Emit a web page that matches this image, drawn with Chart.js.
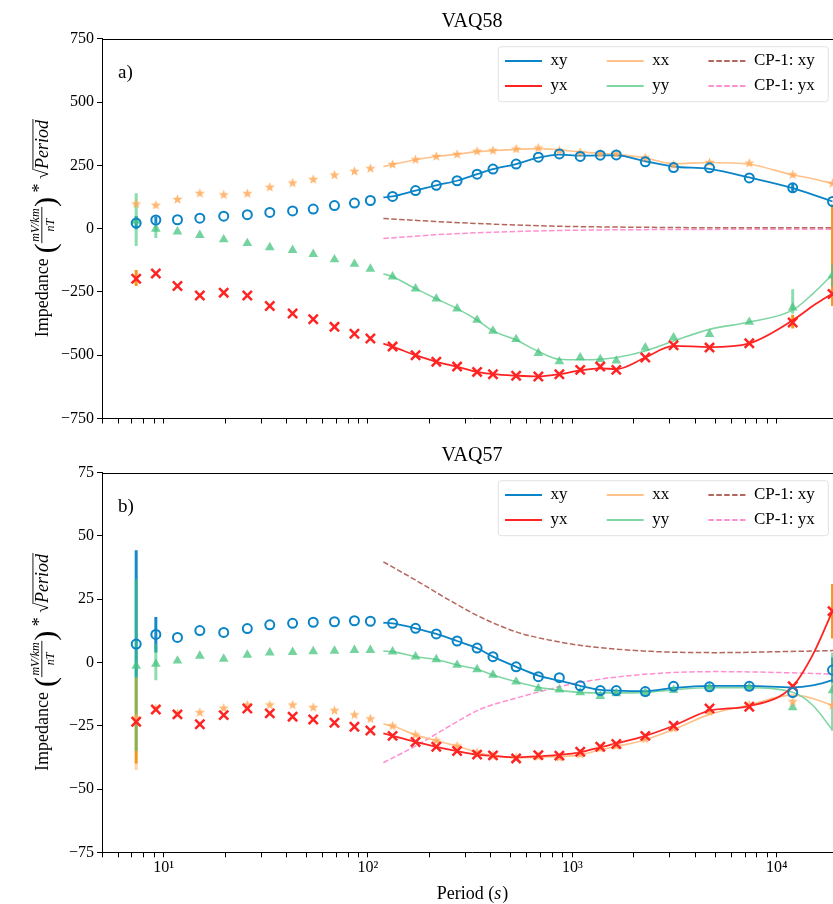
<!DOCTYPE html>
<html><head><meta charset="utf-8">
<script src="https://cdn.jsdelivr.net/npm/chart.js@4.4.0/dist/chart.umd.min.js"></script>
<style>
html,body{margin:0;padding:0;background:#fff;overflow:hidden;}
#wrap{position:relative;width:833px;height:904px;overflow:hidden;}
canvas{position:absolute;left:0;}
</style></head><body>
<div id="wrap">
<canvas id="top" width="842" height="434" style="top:0"></canvas>
<canvas id="bot" width="842" height="470" style="top:434px"></canvas>
</div>
<script>
// ---------------- data ----------------
const PERIODS = [7.35, 9.17, 11.7, 15.05, 19.7, 25.7, 33.1, 42.8, 54.0, 68.6, 85.9, 102.8, 132, 171, 216, 273, 342, 409, 531, 682, 864, 1093, 1370, 1641, 2275, 3128, 4690, 7340, 11970, 18750];
const LINE_PERIODS = [119, 132, 171, 216, 273, 342, 409, 531, 682, 864, 1093, 1370, 1641, 2275, 3128, 4690, 7340, 11970, 15000, 18750];
const X_TICKS = [5, 6, 7, 8, 9, 10, 20, 30, 40, 50, 60, 70, 80, 90, 100, 200, 300, 400, 500, 600, 700, 800, 900, 1000, 2000, 3000, 4000, 5000, 6000, 7000, 8000, 9000, 10000];
const X_MIN = 5, X_MAX = 20860;
const TOP_Y_TICKS = [-750, -500, -250, 0, 250, 500, 750];
const BOT_Y_TICKS = [-75, -50, -25, 0, 25, 50, 75];

// VAQ58 (top)
const XY_TOP = [22, 34, 35, 41, 49, 55, 64, 70, 77, 91, 101, 111, 127, 150, 171, 189, 215, 235, 255, 282, 295, 285, 290, 291, 264, 241, 240, 200, 161, 107];
const YX_TOP = [-198, -177, -227, -264, -253, -264, -306, -335, -358, -388, -415, -434, -466, -500, -526, -545, -566, -575, -581, -584, -575, -558, -545, -558, -509, -461, -470, -453, -371, -258];
const XX_TOP = [97, 92, 115, 139, 133, 138, 163, 180, 194, 211, 226, 237, 253, 272, 285, 293, 305, 308, 314, 318, 308, 300, 295, 295, 280, 252, 261, 258, 212, 178];
const YY_TOP = [30, -1, -12, -26, -43, -58, -74, -85, -101, -122, -140, -159, -190, -237, -277, -316, -361, -404, -437, -492, -525, -509, -516, -522, -470, -430, -417, -369, -312, -185];
const XY_LINE_TOP = [123, 127, 150, 171, 189, 215, 235, 255, 280, 292, 288, 289, 289, 266, 245, 236, 202, 160, 134, 107];
const XX_LINE_TOP = [245, 253, 272, 285, 294, 304, 308, 313, 316, 311, 303, 297, 293, 279, 256, 261, 254, 212, 197, 178];
const YY_LINE_TOP = [-178, -190, -237, -277, -316, -361, -404, -440, -485, -516, -518, -516, -509, -483, -444, -398, -369, -322, -258, -181];
const YX_LINE_TOP = [-454, -466, -500, -526, -545, -566, -575, -581, -584, -575, -560, -552, -555, -509, -463, -468, -453, -362, -306, -256];
const CP_PERIODS_TOP = [119, 255, 786, 2420, 7400, 18850];
const CP_XY_TOP = [40, 25, 10, 5, 3, 3];
const CP_YX_TOP = [-39, -21, -8, -4, -3, -3];
const ERR_TOP_XY = [[7.35, -3, 50], [9.17, 20, 48], [11970, 142, 180]];
const ERR_TOP_YX = [[7.35, -227, -164], [11970, -395, -340], [18750, -306, 95]];
const ERR_TOP_YY = [[7.35, -69, 140], [9.17, -37, 18], [11970, -335, -240], [18750, -230, -140]];
const ERR_TOP_XX = [];

// VAQ57 (bottom)
const XY_BOT = [7.3, 11.1, 9.9, 12.6, 11.9, 13.4, 14.9, 15.5, 15.9, 16.1, 16.5, 16.3, 15.5, 13.5, 11.3, 8.5, 5.7, 2.3, -1.7, -5.6, -6.0, -9.2, -11.1, -11.1, -11.5, -9.4, -9.6, -9.4, -11.9, -3.0];
const YX_BOT = [-23.4, -18.6, -20.5, -24.4, -20.8, -18.2, -20.1, -21.4, -22.5, -23.8, -25.4, -26.9, -29.0, -31.4, -33.3, -35.0, -36.4, -36.7, -37.9, -36.6, -36.8, -35.3, -33.3, -32.2, -29.0, -25.0, -18.2, -17.5, -9.4, 20.3];
const XX_BOT = [-22.0, -18.2, -20.3, -19.8, -18.1, -16.8, -16.8, -16.8, -17.8, -19.0, -20.7, -22.3, -25.1, -28.6, -30.9, -33.0, -35.5, -36.9, -37.6, -37.2, -37.6, -36.3, -33.9, -33.0, -30.3, -26.1, -19.5, -16.8, -15.5, -17.0];
const YY_BOT = [-1.4, -0.6, 0.7, 2.6, 1.4, 3.0, 3.9, 4.1, 4.4, 4.6, 4.9, 4.9, 4.3, 2.3, 1.2, -1.0, -2.7, -4.9, -7.6, -10.3, -10.7, -11.8, -13.3, -12.2, -12.0, -10.9, -9.9, -9.9, -17.8, -11.0];
const XY_LINE_BOT = [15.7, 15.5, 13.5, 11.3, 8.5, 5.7, 2.3, -1.7, -5.2, -7.2, -9.2, -10.8, -11.1, -11.3, -10.0, -9.2, -9.2, -9.8, -9.0, -7.0];
const YX_LINE_BOT = [-28.0, -29.0, -31.4, -33.3, -35.0, -36.4, -36.9, -37.5, -37.0, -36.5, -35.5, -33.5, -32.0, -29.0, -25.0, -19.0, -17.2, -9.4, 3.0, 20.3];
const XX_LINE_BOT = [-24.3, -25.1, -28.6, -30.9, -33.0, -35.5, -36.9, -37.6, -37.4, -37.2, -36.5, -34.5, -33.2, -30.5, -26.5, -20.5, -16.8, -12.9, -14.2, -17.0];
const YY_LINE_BOT = [4.5, 4.3, 2.3, 1.2, -1.0, -2.7, -4.9, -7.6, -9.8, -11.0, -11.8, -12.0, -12.0, -11.8, -10.8, -10.0, -10.0, -11.8, -16.9, -26.7];
const CP_PERIODS_BOT = [119, 180, 252, 354, 535, 778, 1133, 2410, 5100, 10730, 18850];
const CP_XY_BOT = [39.8, 31.5, 24.5, 18.0, 12.0, 8.8, 6.6, 4.4, 3.9, 4.3, 4.7];
const CP_YX_BOT = [-39.6, -32.0, -25.0, -18.5, -14.0, -10.5, -7.6, -4.5, -3.6, -4.0, -4.6];
const ERR_BOT_XY = [[7.35, -6, 44.4], [9.17, 4, 18], [18750, -8, 2]];
const ERR_BOT_YX = [[7.35, -40, -6], [18750, 9.5, 31]];
const ERR_BOT_YY = [[7.35, -35, 33], [9.17, -7, 7.5], [18750, -27, 4]];
const ERR_BOT_XX = [[7.35, -42.5, -40]];

// ---------------- styles ----------------
const C = {
  xy: '#0a84c6', yx: '#ff2424', xx: '#ffc28a', yy: '#80d6a2',
  xxMark: 'rgba(255,170,90,0.85)', yyMark: 'rgba(70,196,125,0.75)',
  cpxy: '#b5665c', cpyx: '#ff8fd0',
  eXY: 'rgba(10,132,198,0.95)', eYX: 'rgba(245,140,0,0.9)', eYY: 'rgba(60,200,120,0.6)', eXX: 'rgba(255,200,150,0.8)'
};
const SERIF = '"Liberation Serif", "Times New Roman", serif';
Chart.defaults.font.family = SERIF;
Chart.defaults.color = '#000';

function starCanvas(color, r) {
  const s = Math.ceil(r * 2 + 2);
  const c = document.createElement('canvas'); c.width = s; c.height = s;
  const g = c.getContext('2d'); g.fillStyle = color; g.beginPath();
  for (let k = 0; k < 10; k++) {
    const a = -Math.PI / 2 + k * Math.PI / 5, rr = (k % 2) ? r * 0.42 : r;
    g.lineTo(s / 2 + rr * Math.cos(a), s / 2 + rr * Math.sin(a));
  }
  g.closePath(); g.fill(); return c;
}
const STAR = starCanvas(C.xxMark, 5.3);

const pts = (per, arr) => per.map((p, i) => ({x: p, y: arr[i]}));
const errPts = (list) => list.flatMap(([p, lo, hi]) => [{x: p, y: lo}, {x: p, y: hi}, {x: p, y: null}]);

function lineDs(label, per, arr, color, width, order, legendOrder, dash) {
  return {label, legendOrder, data: pts(per, arr), showLine: true, borderColor: color, backgroundColor: color,
    borderWidth: width, borderDash: dash || [], pointRadius: 0, cubicInterpolationMode: 'monotone', order};
}
function errDs(list, color, order) {
  return {label: 'err', data: errPts(list), showLine: true, spanGaps: false, borderColor: color, borderWidth: 3,
    pointRadius: 0, order};
}
function panelDatasets(d) {
  return [
    errDs(d.eXY, C.eXY, 33), errDs(d.eYX, C.eYX, 32), errDs(d.eXX, C.eXX, 31), errDs(d.eYY, C.eYY, 30),
    lineDs('xy', LINE_PERIODS, d.xyL, C.xy, 1.8, 12, 0),
    lineDs('yx', LINE_PERIODS, d.yxL, C.yx, 1.8, 11, 1),
    lineDs('xx', LINE_PERIODS, d.xxL, C.xx, 1.6, 14, 2),
    lineDs('yy', LINE_PERIODS, d.yyL, C.yy, 1.6, 13, 3),
    lineDs('CP-1: xy', d.cpP, d.cpxy, C.cpxy, 1.5, 15, 4, [5.5, 2.4]),
    lineDs('CP-1: yx', d.cpP, d.cpyx, C.cpyx, 1.5, 16, 5, [5.5, 2.4]),
    {label: 'yy pts', data: pts(PERIODS, d.yy), pointStyle: 'triangle', pointRadius: 5.6, pointBackgroundColor: C.yyMark, pointBorderWidth: 0, pointBorderColor: 'rgba(0,0,0,0)', order: 4},
    {label: 'xx pts', data: pts(PERIODS, d.xx), pointStyle: STAR, pointRadius: 5, order: 3},
    {label: 'yx pts', data: pts(PERIODS, d.yx), pointStyle: 'crossRot', pointRadius: 6.5, pointBorderWidth: 2.5, pointBorderColor: C.yx, pointBackgroundColor: C.yx, order: 2},
    {label: 'xy pts', data: pts(PERIODS, d.xy), pointStyle: 'circle', pointRadius: 4.5, pointBorderWidth: 2, pointBorderColor: C.xy, pointBackgroundColor: 'rgba(0,0,0,0)', order: 1}
  ];
}

const SUP = {'1': '\u00B9', '2': '\u00B2', '3': '\u00B3', '4': '\u2074'};
function xLabel(v) {
  const e = Math.log10(v);
  if (Math.abs(e - Math.round(e)) < 1e-9) return '10' + SUP[String(Math.round(e))];
  return '';
}
function yLabel(v) { return v < 0 ? '\u2212' + Math.abs(v) : String(v); }

function makeX(showLabels, h) {
  return {
    type: 'logarithmic', min: X_MIN, max: X_MAX,
    afterBuildTicks: s => { s.ticks = X_TICKS.map(v => ({value: v})); },
    afterFit: s => { s.height = h; },
    grid: {drawOnChartArea: false, drawTicks: true, tickLength: 5, tickColor: '#000', tickWidth: 1},
    border: {display: true, color: '#000', width: 1},
    ticks: {display: showLabels, autoSkip: false, maxRotation: 0, minRotation: 0, padding: 1, color: '#000',
      font: {family: SERIF, size: 16}, callback: v => xLabel(v)}
  };
}
function makeY(ticks) {
  return {
    type: 'linear', min: ticks[0], max: ticks[ticks.length - 1],
    afterBuildTicks: s => { s.ticks = ticks.map(v => ({value: v})); },
    afterFit: s => { s.width = 102; },
    grid: {drawOnChartArea: false, drawTicks: true, tickLength: 5, tickColor: '#000', tickWidth: 1},
    border: {display: true, color: '#000', width: 1},
    ticks: {padding: 3, color: '#000', font: {family: SERIF, size: 16}, callback: v => yLabel(v)}
  };
}

function drawYTitle(ctx, bx, cy) {
  const main = '18px ' + SERIF, ital = 'italic 18px ' + SERIF, small = 'italic 12px ' + SERIF, paren = '30px ' + SERIF;
  ctx.save();
  ctx.translate(bx, cy); ctx.rotate(-Math.PI / 2);
  ctx.fillStyle = '#000'; ctx.textBaseline = 'alphabetic'; ctx.textAlign = 'left';
  ctx.font = main; const wImp = ctx.measureText('Impedance').width;
  const wStar = ctx.measureText(' * ').width, wSq = ctx.measureText('\u221A').width;
  ctx.font = paren; const wPar = ctx.measureText('(').width;
  ctx.font = small; const wNum = ctx.measureText('mV/km').width, wDen = ctx.measureText('nT').width;
  const wFrac = Math.max(wNum, wDen) + 3;
  ctx.font = ital; const wPer = ctx.measureText('Period').width;
  const gap = 5;
  const total = wImp + gap + wPar + wFrac + wPar + wStar + wSq + wPer;
  let x = -total / 2;
  ctx.font = main; ctx.fillText('Impedance', x, 0); x += wImp + gap;
  ctx.font = paren; ctx.fillText('(', x, 7); x += wPar;
  ctx.font = small; ctx.fillText('mV/km', x + (wFrac - wNum) / 2, -9); ctx.fillText('nT', x + (wFrac - wDen) / 2, 6);
  ctx.fillRect(x, -6.6, wFrac, 0.9); x += wFrac;
  ctx.font = paren; ctx.fillText(')', x, 7); x += wPar;
  ctx.font = main; ctx.fillText(' * ', x, -3); x += wStar;
  ctx.fillText('\u221A', x, 0); x += wSq;
  ctx.fillRect(x - 1, -15.5, wPer + 2, 0.9);
  ctx.font = ital; ctx.fillText('Period', x, 0);
  ctx.restore();
}
function drawXTitle(ctx, cx, by) {
  const main = '18px ' + SERIF, ital = 'italic 18px ' + SERIF;
  ctx.save(); ctx.fillStyle = '#000'; ctx.textBaseline = 'alphabetic'; ctx.textAlign = 'left';
  ctx.font = main; const w1 = ctx.measureText('Period (').width, w3 = ctx.measureText(')').width;
  ctx.font = ital; const w2 = ctx.measureText('s').width;
  let x = cx - (w1 + w2 + w3) / 2;
  ctx.font = main; ctx.fillText('Period (', x, by); x += w1;
  ctx.font = ital; ctx.fillText('s', x, by); x += w2 + 1;
  ctx.font = main; ctx.fillText(')', x, by);
  ctx.restore();
}

function decorPlugin(letter, showX) {
  return {
    id: 'decor',
    afterLayout(chart) {
      const lg = chart.legend; if (!lg) return;
      const ca = chart.chartArea;
      lg.maxHeight = 60;
      lg.fit();
      lg.left = ca.right - 345; lg.top = ca.top + 5.8;
      lg.width = 336; lg.height = 60;
      lg.right = lg.left + lg.width; lg.bottom = lg.top + lg.height;
      if (lg.columnSizes) lg.columnSizes.forEach(c => { c.width = 93.7; });
    },
    beforeDraw(chart) {
      const ctx = chart.ctx, ca = chart.chartArea;
      const x = ca.right - 343.7, y = ca.top + 8, w = 330, h = 55, r = 3;
      ctx.save();
      ctx.beginPath();
      ctx.moveTo(x + r, y); ctx.lineTo(x + w - r, y); ctx.arcTo(x + w, y, x + w, y + r, r);
      ctx.lineTo(x + w, y + h - r); ctx.arcTo(x + w, y + h, x + w - r, y + h, r);
      ctx.lineTo(x + r, y + h); ctx.arcTo(x, y + h, x, y + h - r, r);
      ctx.lineTo(x, y + r); ctx.arcTo(x, y, x + r, y, r); ctx.closePath();
      ctx.fillStyle = 'rgba(255,255,255,0.8)'; ctx.fill();
      ctx.strokeStyle = '#e2e2e2'; ctx.lineWidth = 1; ctx.stroke();
      ctx.restore();
    },
    afterDraw(chart) {
      const ctx = chart.ctx, ca = chart.chartArea;
      ctx.save();
      ctx.strokeStyle = '#000'; ctx.lineWidth = 1;
      ctx.beginPath(); ctx.moveTo(ca.left, Math.round(ca.top) + 0.5); ctx.lineTo(ca.right, Math.round(ca.top) + 0.5); ctx.stroke();
      ctx.fillStyle = '#000'; ctx.font = '19px ' + SERIF; ctx.textBaseline = 'alphabetic';
      ctx.fillText(letter, 118, ca.top + 39.5);
      ctx.restore();
      drawYTitle(ctx, 48, (ca.top + ca.bottom) / 2);
      if (showX) drawXTitle(ctx, (ca.left + ca.right) / 2, ca.bottom + 47);
    }
  };
}

function legendLabels(chart) {
  const items = Chart.defaults.plugins.legend.labels.generateLabels(chart);
  items.forEach(it => {
    const ds = chart.data.datasets[it.datasetIndex];
    it.lineDash = ds.borderDash || [];
    it.lineWidth = 2;
    it.strokeStyle = ds.borderColor;
    it.fillStyle = ds.borderColor;
  });
  return items;
}

function makeChart(id, title, letter, data, yTicks, showX, xH) {
  new Chart(document.getElementById(id), {
    type: 'scatter',
    data: {datasets: panelDatasets(data)},
    options: {
      responsive: false, animation: false, events: [],
      layout: {padding: 0, autoPadding: false},
      plugins: {
        title: {display: true, text: title, fullSize: false, color: '#000',
          font: {family: SERIF, size: 20, weight: 'normal', lineHeight: 1.2}, padding: {top: 9.5, bottom: 5.2}},
        legend: {display: true, position: 'chartArea', align: 'start',
          labels: {usePointStyle: true, pointStyle: 'line', pointStyleWidth: 37, padding: 8, color: '#000',
            font: {family: SERIF, size: 17},
            generateLabels: legendLabels,
            filter: (item, d) => d.datasets[item.datasetIndex].legendOrder !== undefined,
            sort: (a, b, d) => d.datasets[a.datasetIndex].legendOrder - d.datasets[b.datasetIndex].legendOrder}},
        tooltip: {enabled: false}
      },
      scales: {x: makeX(showX, xH), y: makeY(yTicks)}
    },
    plugins: [decorPlugin(letter, showX)]
  });
}

makeChart('top', 'VAQ58', 'a)', {
  xy: XY_TOP, yx: YX_TOP, xx: XX_TOP, yy: YY_TOP,
  xyL: XY_LINE_TOP, yxL: YX_LINE_TOP, xxL: XX_LINE_TOP, yyL: YY_LINE_TOP,
  cpP: CP_PERIODS_TOP, cpxy: CP_XY_TOP, cpyx: CP_YX_TOP,
  eXY: ERR_TOP_XY, eYX: ERR_TOP_YX, eYY: ERR_TOP_YY, eXX: ERR_TOP_XX
}, TOP_Y_TICKS, false, 15.5);

makeChart('bot', 'VAQ57', 'b)', {
  xy: XY_BOT, yx: YX_BOT, xx: XX_BOT, yy: YY_BOT,
  xyL: XY_LINE_BOT, yxL: YX_LINE_BOT, xxL: XX_LINE_BOT, yyL: YY_LINE_BOT,
  cpP: CP_PERIODS_BOT, cpxy: CP_XY_BOT, cpyx: CP_YX_BOT,
  eXY: ERR_BOT_XY, eYX: ERR_BOT_YX, eYY: ERR_BOT_YY, eXX: ERR_BOT_XX
}, BOT_Y_TICKS, true, 51.7);
</script>
</body></html>
